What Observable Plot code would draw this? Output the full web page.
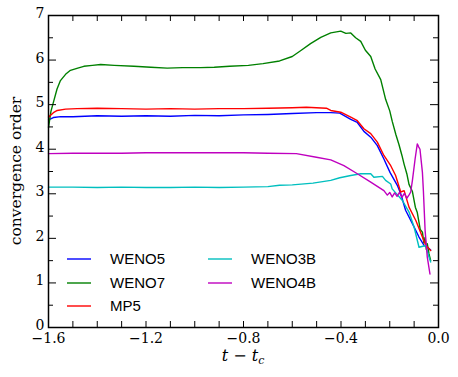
<!DOCTYPE html>
<html>
<head>
<meta charset="utf-8">
<script src="https://cdn.jsdelivr.net/npm/d3@7"></script>
<script src="https://cdn.jsdelivr.net/npm/@observablehq/plot@0.6"></script>
<style>
  html, body { margin: 0; padding: 0; background: #fff; }
  #chart { width: 458px; height: 377px; }
</style>
</head>
<body>
<div id="chart"></div>
<script>
// ---- data ----
const seriesNames = ["WENO5", "WENO7", "MP5", "WENO3B", "WENO4B"];
const seriesColors = ["#0000ff", "#008000", "#ff0000", "#00bfbf", "#bf00bf"];

const weno5T = [-1.6, -1.58, -1.55, -1.5, -1.4, -1.3, -1.2, -1.1, -1.0, -0.9, -0.8, -0.7, -0.6, -0.5, -0.442, -0.405, -0.36, -0.333, -0.306, -0.278, -0.251, -0.224, -0.199, -0.169, -0.155, -0.135, -0.107, -0.08, -0.059, -0.045, -0.039, -0.032];
const weno5V = [4.66, 4.71, 4.73, 4.73, 4.75, 4.74, 4.75, 4.74, 4.76, 4.75, 4.77, 4.78, 4.80, 4.82, 4.82, 4.81, 4.67, 4.60, 4.40, 4.27, 4.08, 3.78, 3.48, 3.19, 3.00, 2.63, 2.33, 2.03, 1.84, 1.80, 1.77, 1.74];

const weno7T = [-1.6, -1.59, -1.578, -1.565, -1.551, -1.53, -1.51, -1.48, -1.455, -1.42, -1.386, -1.33, -1.25, -1.18, -1.113, -1.05, -0.976, -0.92, -0.857, -0.78, -0.72, -0.652, -0.6, -0.566, -0.525, -0.483, -0.442, -0.401, -0.38, -0.36, -0.34, -0.319, -0.3, -0.278, -0.26, -0.237, -0.217, -0.2, -0.19, -0.175, -0.162, -0.15, -0.141, -0.13, -0.121, -0.107, -0.095, -0.087, -0.075, -0.066, -0.06, -0.055, -0.05, -0.046, -0.039, -0.032];
const weno7V = [4.49, 4.85, 5.09, 5.35, 5.54, 5.68, 5.77, 5.82, 5.86, 5.88, 5.90, 5.88, 5.86, 5.84, 5.82, 5.83, 5.83, 5.84, 5.86, 5.88, 5.92, 5.98, 6.08, 6.21, 6.37, 6.51, 6.61, 6.65, 6.60, 6.61, 6.50, 6.42, 6.22, 6.08, 5.80, 5.56, 5.12, 4.86, 4.63, 4.33, 4.10, 3.86, 3.66, 3.45, 3.21, 3.05, 2.70, 2.58, 2.20, 2.14, 1.90, 2.02, 1.75, 1.88, 1.65, 1.50];

const mp5T = [-1.6, -1.58, -1.564, -1.53, -1.482, -1.4, -1.3, -1.2, -1.1, -1.0, -0.9, -0.8, -0.7, -0.6, -0.542, -0.46, -0.442, -0.401, -0.36, -0.333, -0.306, -0.278, -0.251, -0.224, -0.196, -0.176, -0.155, -0.141, -0.121, -0.093, -0.066, -0.052, -0.032];
const mp5V = [4.72, 4.82, 4.87, 4.90, 4.91, 4.92, 4.91, 4.90, 4.91, 4.90, 4.91, 4.91, 4.92, 4.93, 4.94, 4.92, 4.87, 4.83, 4.72, 4.64, 4.46, 4.35, 4.16, 3.86, 3.63, 3.41, 3.04, 3.07, 2.70, 2.40, 2.03, 1.84, 1.73];

const weno3bT = [-1.6, -1.5, -1.4, -1.3, -1.2, -1.1, -1.0, -0.9, -0.8, -0.7, -0.652, -0.6, -0.515, -0.442, -0.405, -0.36, -0.319, -0.278, -0.265, -0.23, -0.217, -0.196, -0.19, -0.148, -0.121, -0.1, -0.08, -0.052, -0.039, -0.032];
const weno3bV = [3.15, 3.15, 3.14, 3.15, 3.14, 3.14, 3.15, 3.14, 3.15, 3.16, 3.19, 3.20, 3.24, 3.30, 3.36, 3.41, 3.45, 3.45, 3.37, 3.39, 3.30, 3.22, 3.11, 2.85, 2.59, 2.25, 1.80, 1.84, 1.58, 1.47];

const weno4bT = [-1.6, -1.5, -1.4, -1.3, -1.2, -1.1, -1.0, -0.9, -0.8, -0.7, -0.583, -0.501, -0.442, -0.388, -0.333, -0.278, -0.224, -0.21, -0.2, -0.19, -0.18, -0.17, -0.16, -0.15, -0.14, -0.13, -0.12, -0.114, -0.107, -0.096, -0.087, -0.082, -0.076, -0.066, -0.062, -0.055, -0.046, -0.035];
const weno4bV = [3.90, 3.91, 3.91, 3.91, 3.92, 3.92, 3.92, 3.92, 3.92, 3.91, 3.90, 3.82, 3.76, 3.63, 3.45, 3.26, 3.07, 2.97, 3.03, 2.93, 3.02, 2.94, 3.03, 2.92, 3.01, 2.90, 2.98, 3.04, 3.30, 3.78, 4.12, 4.06, 4.00, 3.48, 3.07, 2.18, 1.58, 1.20];

const xTickValues = [-1.6, -1.5, -1.4, -1.3, -1.2, -1.1, -1.0, -0.9, -0.8, -0.7, -0.6, -0.5, -0.4, -0.3, -0.2, -0.1, 0.0];
const xLabelValues = [-1.6, -1.2, -0.8, -0.4, 0.0];
const yMajorValues = [0, 1, 2, 3, 4, 5, 6, 7];
const yMinorValues = [0.5, 1.5, 2.5, 3.5, 4.5, 5.5, 6.5];

// ---- build tables ----
const seriesT = [weno5T, weno7T, mp5T, weno3bT, weno4bT];
const seriesV = [weno5V, weno7V, mp5V, weno3bV, weno4bV];
const rows = [];
seriesNames.forEach((name, i) => {
  seriesT[i].forEach((t, j) => rows.push({series: name, t, v: seriesV[i][j]}));
});

const W = 458, H = 377;
const mL = 48, mR = 20, mT = 15, mB = 50;
const plotW = W - mL - mR, plotH = H - mT - mB;
const fmt = d => (d < 0 ? "\u2212" : "") + Math.abs(d).toFixed(1);

const svg = Plot.plot({
  width: W, height: H,
  marginLeft: mL, marginRight: mR, marginTop: mT, marginBottom: mB,
  style: {fontFamily: "DejaVu Serif", fontSize: "14px", color: "#000", background: "#fff"},
  x: {domain: [-1.6, 0], label: null},
  y: {domain: [0, 7], label: null},
  color: {domain: seriesNames, range: seriesColors},
  marks: [
    Plot.line(rows, {x: "t", y: "v", z: "series", stroke: "series", strokeWidth: 1.4}),
    Plot.frame({stroke: "#000", strokeWidth: 1.5}),
    Plot.tickX(xTickValues, {x: d => d, insetTop: plotH - 6, stroke: "#000", strokeWidth: 1}),
    Plot.tickX(xTickValues, {x: d => d, insetBottom: plotH - 6, stroke: "#000", strokeWidth: 1}),
    Plot.tickY(yMajorValues, {y: d => d, insetRight: plotW - 8, stroke: "#000", strokeWidth: 1}),
    Plot.tickY(yMajorValues, {y: d => d, insetLeft: plotW - 8, stroke: "#000", strokeWidth: 1}),
    Plot.tickY(yMinorValues, {y: d => d, insetRight: plotW - 5, stroke: "#000", strokeWidth: 1}),
    Plot.tickY(yMinorValues, {y: d => d, insetLeft: plotW - 5, stroke: "#000", strokeWidth: 1}),
    Plot.axisX(xLabelValues, {tickSize: 0, tickPadding: 6, tickFormat: fmt, label: null, fontSize: 14}),
    Plot.axisY(yMajorValues, {tickSize: 0, tickPadding: 4, tickFormat: d => String(d), label: null, fontSize: 14, dy: -2})
  ]
});

const s = d3.select(svg);

// axis titles
s.append("text")
  .attr("transform", "translate(17,171) rotate(-90)")
  .attr("text-anchor", "middle")
  .attr("dominant-baseline", "middle")
  .style("font-family", "DejaVu Serif").style("font-size", "15.5px")
  .text("convergence order");

const xl = s.append("text")
  .attr("x", 243).attr("y", 361)
  .attr("text-anchor", "middle")
  .style("font-family", "DejaVu Serif").style("font-size", "16px");
xl.append("tspan").style("font-style", "italic").text("t");
xl.append("tspan").text(" \u2212 ");
xl.append("tspan").style("font-style", "italic").text("t");
xl.append("tspan").style("font-style", "italic").style("font-size", "11px").attr("dy", 3).text("c");

// legend
const legendPos = [
  {x: 67, y: 259}, {x: 67, y: 283}, {x: 67, y: 306},
  {x: 208, y: 259}, {x: 208, y: 283}
];
const lg = s.append("g").attr("text-anchor", "start");
seriesNames.forEach((name, i) => {
  const p = legendPos[i];
  lg.append("line").attr("x1", p.x).attr("x2", p.x + 24).attr("y1", p.y).attr("y2", p.y)
    .attr("stroke", seriesColors[i]).attr("stroke-width", 1.4);
  lg.append("text").attr("x", p.x + 43).attr("y", p.y).attr("dy", "0.36em")
    .attr("text-anchor", "start")
    .style("font-family", "Liberation Sans, Arial, sans-serif").style("font-size", "15px")
    .text(name);
});

document.getElementById("chart").appendChild(svg);
</script>
</body>
</html>
